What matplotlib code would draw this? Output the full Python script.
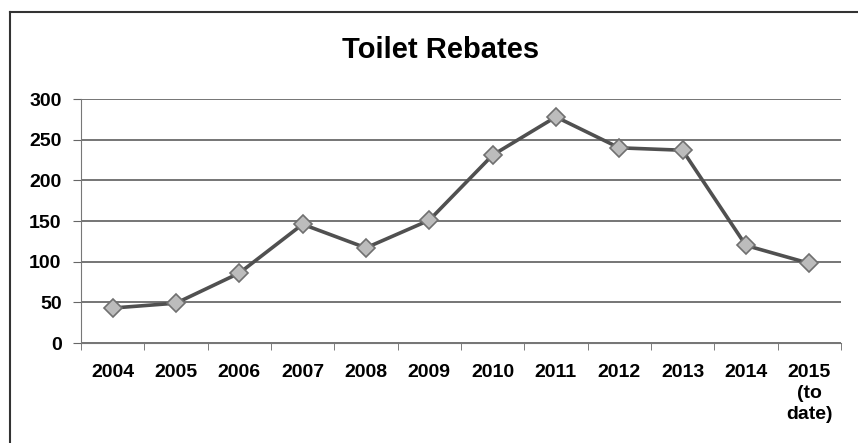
import matplotlib
matplotlib.use('Agg')
import matplotlib.pyplot as plt
from matplotlib.lines import Line2D

# Data
years = ['2004', '2005', '2006', '2007', '2008', '2009', '2010', '2011',
         '2012', '2013', '2014', '2015\n(to\ndate)']
rebates = [43, 49, 86, 146, 117, 151, 231, 278, 240, 237, 120, 98]

plt.rcParams['font.family'] = ['Liberation Sans', 'DejaVu Sans']

fig = plt.figure(figsize=(8.58, 4.43), dpi=100)
ax = fig.add_axes([0.0944, 0.2257, 0.8856, 0.5508])

x = list(range(len(years)))
ax.plot(x, rebates, color='#505050', linewidth=2.6, marker='D', markersize=9,
        markerfacecolor='#bcbcbc', markeredgecolor='#707070', markeredgewidth=1.2,
        zorder=3)

ax.set_xlim(-0.5, len(years) - 0.5)
ax.set_ylim(0, 300)
ax.set_yticks(range(0, 301, 50))
ax.yaxis.grid(True, color='#505050', linewidth=1.1)
ax.set_axisbelow(True)

# category labels centred, tick marks on category boundaries (Excel style)
ax.set_xticks(x)
ax.set_xticklabels(years, fontsize=14, fontweight='bold', linespacing=1.3)
ax.tick_params(axis='x', length=0, pad=15)
ax.set_xticks([i - 0.5 for i in range(len(years) + 1)], minor=True)
ax.tick_params(axis='x', which='minor', length=5, color='#666666', direction='out')
ax.tick_params(axis='y', length=6, color='#666666', pad=8, labelsize=14)
for lab in ax.get_yticklabels():
    lab.set_fontweight('bold')

for side in ['top', 'right']:
    ax.spines[side].set_visible(False)
ax.spines['left'].set_color('#777777')
ax.spines['bottom'].set_color('#777777')

fig.text(0.514, 0.888, 'Toilet Rebates', ha='center', va='center',
         fontsize=21, fontweight='bold')

# outer chart frame (only top and left edges are inside the scan)
fig.add_artist(Line2D([0.0117, 1.0], [0.973, 0.973], color='#333333', linewidth=1.5,
                      transform=fig.transFigure))
fig.add_artist(Line2D([0.0117, 0.0117], [0.0, 0.973], color='#333333', linewidth=1.5,
                      transform=fig.transFigure))

fig.savefig('out.png', dpi=100)
